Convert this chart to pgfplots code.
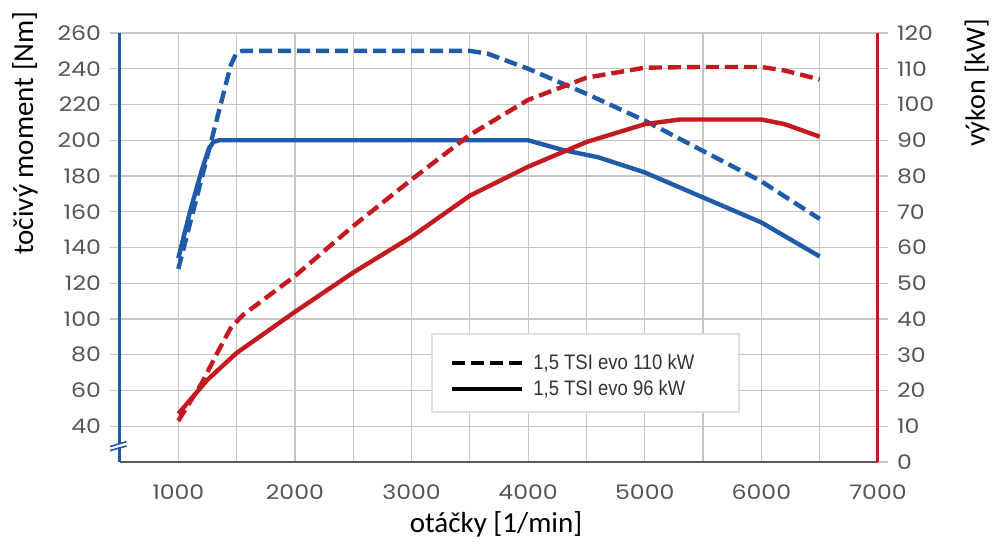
\documentclass[border=0pt]{standalone}
\usepackage{fontspec}
\setmainfont{Carlito}
\newfontfamily\tickfont[FakeStretch=1.18]{Poppins}
\newfontfamily\legendfont[FakeStretch=0.88]{Liberation Sans}
\usepackage{pgfplots}
\pgfplotsset{compat=1.18}
\definecolor{tblue}{HTML}{1F5BA8}
\definecolor{tred}{HTML}{C41A1F}
\definecolor{gridgray}{HTML}{C6C6C6}
\definecolor{axgray}{HTML}{5A5A5A}
\definecolor{tickgray}{HTML}{555555}
\tikzset{dsh/.style={dash pattern=on 6.5pt off 3pt}}
\pgfplotsset{
  common/.style={
    at={(0,0)}, anchor=south west, scale only axis,
    width=379pt, height=214.5pt, xmin=500, xmax=7000,
    /pgf/number format/assume math mode=true,
    /pgf/number format/1000 sep={},
    tick label style={font=\tickfont\fontsize{10}{12}\selectfont, text=tickgray},
    tick align=outside, major tick length=5pt,
  },
}
\begin{document}
\begin{tikzpicture}
\useasboundingbox (-60pt,-40.5pt) rectangle (436pt,231pt);
% left axis: torque
\begin{axis}[common,
  ymin=20, ymax=260,
  axis x line*=bottom, axis y line*=left,
  x axis line style={draw=axgray, line width=1pt, -},
  y axis line style={draw=tblue, line width=1.5pt, -},
  xtick={1000,2000,...,7000}, minor xtick={1500,2500,...,6500},
  ytick={40,60,...,260},
  xmajorgrids, xminorgrids, ymajorgrids,
  major grid style={draw=gridgray, line width=0.6pt},
  minor grid style={draw=gridgray, line width=0.6pt},
  x tick style={draw=none}, minor x tick style={draw=none},
  y tick style={draw=gridgray, line width=0.6pt},
  xticklabel style={yshift=-3pt},
  yticklabel style={xshift=-1pt},
]
\addplot[tblue, line width=2.2pt, dsh, line join=round] coordinates {
 (1000,128) (1150,166) (1300,204) (1450,242) (1500,249) (1550,250) (2000,250) (3000,250) (3500,250)
 (3650,248.5) (4000,240) (4500,226) (5000,211) (5500,194) (6000,177) (6500,156)};
\addplot[tblue, line width=2.2pt, line join=round] coordinates {
 (1000,134) (1100,160) (1200,183) (1260,195) (1300,199) (1350,200) (2000,200) (3000,200) (4000,200)
 (4300,194.5) (4600,190.5) (5000,182) (5500,168) (6000,154) (6500,135)};
\end{axis}
% right axis: power
\begin{axis}[common,
  ymin=0, ymax=120,
  axis x line=none, axis y line*=right,
  y axis line style={draw=tred, line width=1.5pt, -},
  ytick={0,10,...,120},
  y tick style={draw=gridgray, line width=0.6pt},
  yticklabel style={xshift=1pt},
]
\addplot[tred, line width=2.2pt, dsh, line join=round] coordinates {
 (1000,11.5) (1200,22) (1350,31.5) (1450,37.5) (1550,41) (2000,52) (2500,66) (3000,79) (3500,91.5)
 (4000,101.3) (4500,107.5) (5000,110.3) (5500,110.5) (6000,110.5) (6200,109.5) (6500,107)};
\addplot[tred, line width=2.2pt, line join=round] coordinates {
 (1000,13.5) (1250,23) (1500,30.5) (2000,42) (2500,53) (3000,63) (3500,74.5) (4000,82.6)
 (4500,89.5) (5000,94.5) (5300,95.8) (6000,95.8) (6200,94.5) (6500,91)};
\end{axis}
% axis break on the left axis
\fill[white] (-1.2pt,7.4pt) rectangle (1.2pt,8.9pt);
\draw[tblue, line width=0.8pt] (-5pt,7.7pt) -- (3.3pt,10.2pt);
\draw[tblue, line width=0.8pt] (-5pt,5.7pt) -- (3.3pt,8pt);
% legend
\node[draw=gray!25, line width=0.8pt, fill=white, minimum width=153.5pt, minimum height=39pt,
      anchor=north west, inner sep=0pt] at (155.5pt,64.5pt) {};
\draw[black, line width=2pt, dsh] (166pt,49.5pt) -- (201pt,49.5pt);
\draw[black, line width=2pt] (166pt,36.5pt) -- (201pt,36.5pt);
\node[anchor=west, inner sep=0pt, font=\legendfont\fontsize{10.5}{12}\selectfont, text=black!80] at (206.5pt,49.5pt) {1,5 TSI evo 110 kW};
\node[anchor=west, inner sep=0pt, font=\legendfont\fontsize{10.5}{12}\selectfont, text=black!80] at (206.5pt,36.5pt) {1,5 TSI evo 96 kW};
% axis labels
\node[rotate=90, inner sep=0pt, font=\fontsize{14.5}{17}\selectfont] at (-47.5pt,164.5pt) {točivý moment [Nm]};
\node[rotate=90, inner sep=0pt, font=\fontsize{14}{17}\selectfont] at (428.5pt,189.5pt) {výkon [kW]};
\node[inner sep=0pt, font=\fontsize{14.5}{17}\selectfont] at (188pt,-31pt) {otáčky [1/min]};
\end{tikzpicture}
\end{document}
